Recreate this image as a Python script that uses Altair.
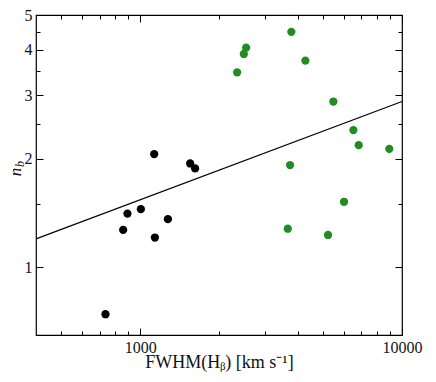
import altair as alt
import pandas as pd

# --- data ---
black_fwhm = [1131, 1552, 1621, 894, 861, 1006, 1138, 1276, 737]
black_nb = [2.06, 1.94, 1.88, 1.41, 1.27, 1.45, 1.21, 1.36, 0.742]

green_fwhm = [3779, 2539, 2488, 2346, 4275, 5467, 6520, 6833, 8943, 3736, 3662, 5218, 6006]
green_nb = [4.49, 4.06, 3.90, 3.47, 3.74, 2.88, 2.40, 2.18, 2.13, 1.92, 1.28, 1.23, 1.52]

fit_fwhm = [400, 10000]
fit_nb = [1.20, 2.88]

x_label_vals = [1000, 10000]
x_minor_vals = [500, 600, 700, 800, 900, 2000, 3000, 4000, 5000,
                6000, 7000, 8000, 9000]
y_label_vals = [1, 2, 3, 4, 5]
y_minor_vals = [1.5, 2.5, 3.5, 4.5]

W, H = 366, 320
FONT = "Liberation Serif"

black_df = pd.DataFrame({"fwhm": black_fwhm, "nb": black_nb})
green_df = pd.DataFrame({"fwhm": green_fwhm, "nb": green_nb})
fit_df = pd.DataFrame({"fwhm": fit_fwhm, "nb": fit_nb})

xs = alt.Scale(type="log", domain=[400, 10000], nice=False)
ys = alt.Scale(type="log", domain=[0.65, 5], nice=False)

# label axes (no ticks)
x_lab = alt.Axis(orient="bottom", values=x_label_vals, format="d", ticks=False,
                 domain=False, grid=False, labelFont=FONT, labelFontSize=16,
                 labelColor="#111", labelPadding=4, labelFlush=False,
                 labelOverlap=False,
                 title="FWHM(Hᵦ) [km s⁻¹]", titleFont=FONT, titleFontSize=18,
                 titleFontWeight="normal", titleColor="#111",
                 titleBaseline="alphabetic", titleY=32)
y_lab = alt.Axis(orient="left", values=y_label_vals, format="d", ticks=False,
                 domain=False, grid=False, labelFont=FONT, labelFontSize=16,
                 labelColor="#111", labelPadding=4, labelFlush=False,
                 labelOverlap=False, title=None)


def tick_axis(orient, offset, vals, size):
    return alt.Axis(orient=orient, offset=offset, values=vals, labels=False,
                    domain=False, grid=False, tickSize=size, tickColor="black",
                    tickWidth=1, title=None)


line = alt.Chart(fit_df).mark_line(color="black", strokeWidth=1.2).encode(
    x=alt.X("fwhm:Q", scale=xs, axis=x_lab),
    y=alt.Y("nb:Q", scale=ys, axis=y_lab),
)

# inward ticks: bottom & left (minor)
blk = alt.Chart(black_df).mark_circle(color="black", size=68, opacity=1).encode(
    x=alt.X("fwhm:Q", scale=xs, axis=tick_axis("top", -H, x_minor_vals, 4)),
    y=alt.Y("nb:Q", scale=ys, axis=tick_axis("right", -W, y_minor_vals, 4)),
)

# inward ticks: top & right (minor)
grn = alt.Chart(green_df).mark_circle(color="#228b22", size=68, opacity=1).encode(
    x=alt.X("fwhm:Q", scale=xs, axis=tick_axis("bottom", -H, x_minor_vals, 4)),
    y=alt.Y("nb:Q", scale=ys, axis=tick_axis("left", -W, y_minor_vals, 4)),
)

# inward major ticks (invisible carrier marks)
maj1 = alt.Chart(fit_df).mark_line(opacity=0).encode(
    x=alt.X("fwhm:Q", scale=xs, axis=tick_axis("top", -H, x_label_vals, 7)),
    y=alt.Y("nb:Q", scale=ys, axis=tick_axis("right", -W, y_label_vals, 7)),
)
maj2 = alt.Chart(fit_df).mark_line(opacity=0).encode(
    x=alt.X("fwhm:Q", scale=xs, axis=tick_axis("bottom", -H, x_label_vals, 7)),
    y=alt.Y("nb:Q", scale=ys, axis=tick_axis("left", -W, y_label_vals, 7)),
)

dummy = alt.Data(values=[{"a": 1}])
t_n = alt.Chart(dummy).mark_text(text="n", font=FONT, fontSize=17, fontStyle="italic",
                                 angle=270, color="#111", align="center",
                                 baseline="alphabetic").encode(
    x=alt.value(-15), y=alt.value(157))
t_b = alt.Chart(dummy).mark_text(text="b", font=FONT, fontSize=12, fontStyle="italic",
                                 angle=270, color="#111", align="center",
                                 baseline="alphabetic").encode(
    x=alt.value(-12), y=alt.value(149))

chart = alt.layer(line, blk, grn, maj1, maj2, t_n, t_b).resolve_axis(
    x="independent", y="independent"
).properties(
    width=W, height=H,
    autosize=alt.AutoSizeParams(type="none"),
    padding={"left": 28, "top": 7, "right": 26, "bottom": 40},
).configure_view(stroke="black", strokeWidth=1.2)

chart.save("out.html", embed_options={"renderer": "svg", "actions": False})
